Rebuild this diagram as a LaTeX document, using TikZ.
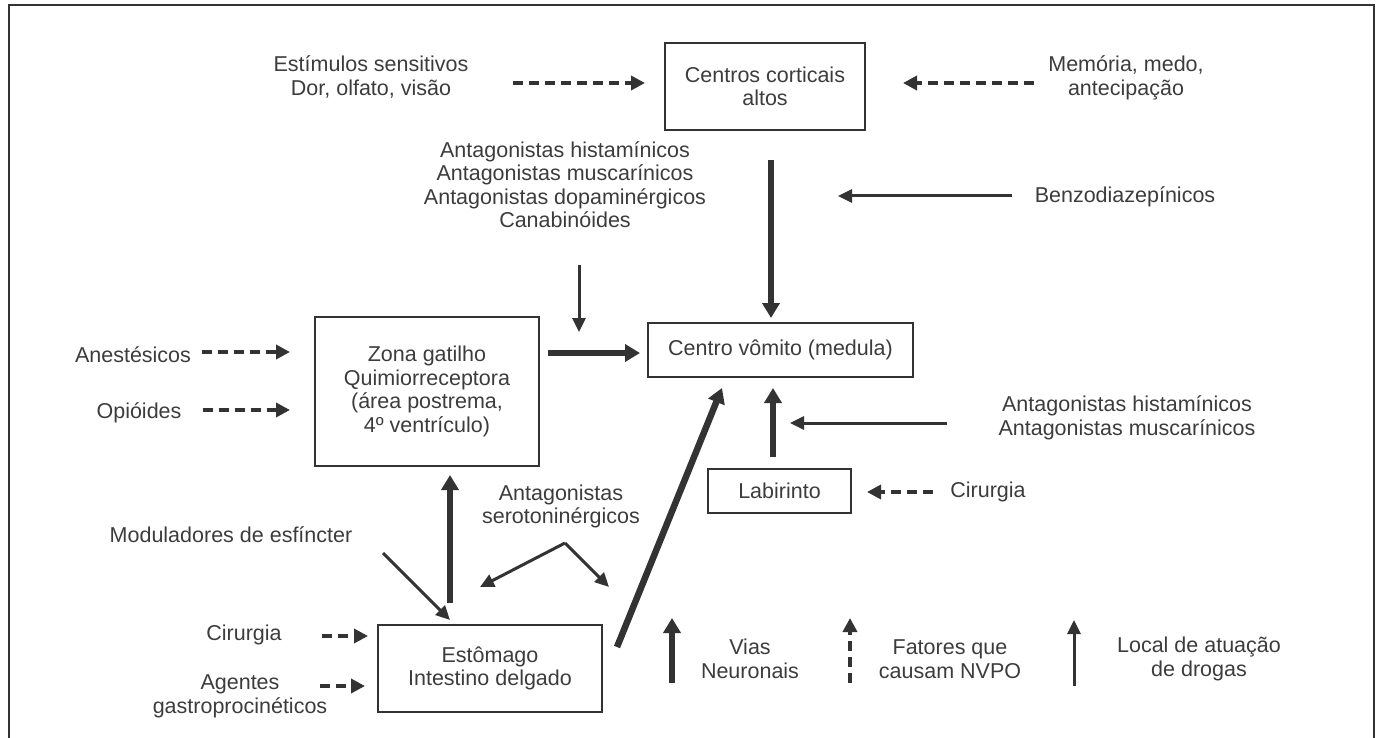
\documentclass[tikz,border=0pt]{standalone}
\usepackage{fontspec}
\setmainfont{Liberation Sans}
\usetikzlibrary{arrows.meta}
\definecolor{lc}{HTML}{333333}
\definecolor{tc}{HTML}{3C3C3C}
\begin{document}
\begin{tikzpicture}[x=1pt,y=-1pt,
  every node/.style={font=\fontsize{21.5}{23.5}\selectfont, text=tc, inner sep=0pt, align=center},
  boxn/.style={draw=lc, line width=2.8pt},
  neur/.style={draw=lc, line width=6.5pt, -{Triangle[length=15pt,width=17pt]}},
  fact/.style={draw=lc, line width=3.5pt, dash pattern=on 10pt off 6pt, -{Triangle[length=14pt,width=14pt]}},
  drug/.style={draw=lc, line width=3pt, -{Triangle[length=14pt,width=13pt]}}]
\useasboundingbox (0,0) rectangle (1379,738);
% frame
\draw[lc, line width=2pt] (9,740) -- (9,5) -- (1374,5) -- (1374,740);
% boxes
\node[boxn, minimum width=200pt, minimum height=87pt] (cc) at (765,86.5) {Centros corticais\\altos};
\node[boxn, minimum width=224pt, minimum height=149pt] (zg) at (427,391.5) {Zona gatilho\\Quimiorreceptora\\(área postrema,\\4º ventrículo)};
\node[boxn, minimum width=265pt, minimum height=54pt] (cv) at (780.5,350) {Centro vômito (medula)};
\node[boxn, minimum width=143pt, minimum height=44pt] (lab) at (779.5,491) {Labirinto};
\node[boxn, minimum width=224pt, minimum height=87pt] (est) at (490,668.5) {Estômago\\Intestino delgado};
% labels
\node (estim) at (371,77) {Estímulos sensitivos\\Dor, olfato, visão};
\node (mem) at (1126,78) {Memória, medo,\\antecipação};
\node (antag) at (565,184.5) {Antagonistas histamínicos\\Antagonistas muscarínicos\\Antagonistas dopaminérgicos\\Canabinóides};
\node (benzo) at (1125,197) {Benzodiazepínicos};
\node (anest) at (133,355) {Anestésicos};
\node (opio) at (139,413) {Opióides};
\node (antag2) at (1127,418) {Antagonistas histamínicos\\Antagonistas muscarínicos};
\node (cir1) at (988,492) {Cirurgia};
\node (sero) at (561,506.5) {Antagonistas\\serotoninérgicos};
\node (modu) at (231,535) {Moduladores de esfíncter};
\node (cir2) at (244,635) {Cirurgia};
\node (agen) at (240,696.5) {Agentes\\gastroprocinéticos};
\node (lg1) at (750,659) {Vias\\Neuronais};
\node (lg2) at (950,659) {Fatores que\\causam NVPO};
\node (lg3) at (1199,659) {Local de atuação\\de drogas};
% connector ends
\coordinate (a1s) at (513,83);   \coordinate (a1e) at (645,83);
\coordinate (a2s) at (1034,83);  \coordinate (a2e) at (903,83);
\coordinate (a3s) at (771,160);  \coordinate (a3e) at (771,318);
\coordinate (a4s) at (1012,196); \coordinate (a4e) at (838,196);
\coordinate (a5s) at (579,265);  \coordinate (a5e) at (579,332);
\coordinate (a6s) at (548,353);  \coordinate (a6e) at (640,353);
\coordinate (a7s) at (202,352);  \coordinate (a7e) at (290,352);
\coordinate (a8s) at (203,410);  \coordinate (a8e) at (290,410);
\coordinate (a9s) at (947,423);  \coordinate (a9e) at (790,423);
\coordinate (a10s) at (773,457); \coordinate (a10e) at (773,388);
\coordinate (a11s) at (933,492); \coordinate (a11e) at (867,492);
\coordinate (a12s) at (617,647); \coordinate (a12e) at (722,388);
\coordinate (a13s) at (450,603); \coordinate (a13e) at (450,475);
\coordinate (a14s) at (383,553); \coordinate (a14e) at (450,620);
\coordinate (vap) at (565,543);  \coordinate (vl) at (480,587); \coordinate (vr) at (609,587);
\coordinate (a15s) at (322,636); \coordinate (a15e) at (368,636);
\coordinate (a16s) at (320,686); \coordinate (a16e) at (365,686);
\coordinate (l1s) at (672,683);  \coordinate (l1e) at (672,618);
\coordinate (l2s) at (850,683);  \coordinate (l2e) at (850,618);
\coordinate (l3s) at (1074,686); \coordinate (l3e) at (1074,620);
% connectors
\draw[fact] (a1s) -- (a1e);
\draw[fact] (a2s) -- (a2e);
\draw[neur] (a3s) -- (a3e);
\draw[drug] (a4s) -- (a4e);
\draw[drug] (a5s) -- (a5e);
\draw[neur] (a6s) -- (a6e);
\draw[fact] (a7s) -- (a7e);
\draw[fact] (a8s) -- (a8e);
\draw[drug] (a9s) -- (a9e);
\draw[neur] (a10s) -- (a10e);
\draw[fact] (a11s) -- (a11e);
\draw[neur] (a12s) -- (a12e);
\draw[neur] (a13s) -- (a13e);
\draw[drug] (a14s) -- (a14e);
\draw[drug] (vap) -- (vl);
\draw[drug] (vap) -- (vr);
\draw[fact] (a15s) -- (a15e);
\draw[fact] (a16s) -- (a16e);
\draw[neur] (l1s) -- (l1e);
\draw[fact] (l2s) -- (l2e);
\draw[drug] (l3s) -- (l3e);
\end{tikzpicture}
\end{document}
